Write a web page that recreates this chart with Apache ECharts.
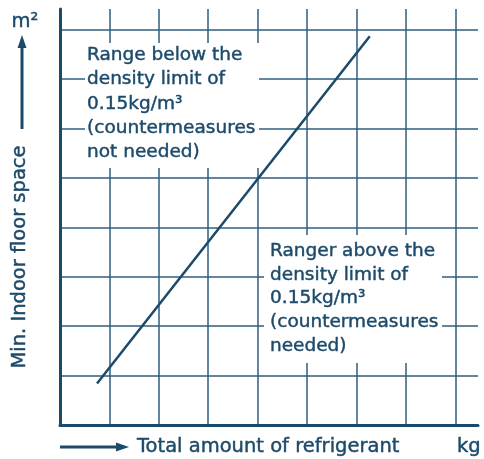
<!DOCTYPE html>
<html>
<head>
<meta charset="utf-8">
<script src="https://cdn.jsdelivr.net/npm/echarts@6/dist/echarts.min.js"></script>
<style>
html,body{margin:0;padding:0;background:#fff;}
#chart{width:484px;height:459px;}
</style>
</head>
<body>
<div id="chart"></div>
<script>
// refrigerant amount (kg) vs min. floor space (m2), grid units
const amount = [0.75, 6.27];
const floorSpace = [0.84, 7.87];
const xMax = 8.46;
const yMax = 8.42;
const belowText = ['Range below the', 'density limit of', '0.15kg/m³', '(countermeasures', 'not needed)'];
const aboveText = ['Ranger above the', 'density limit of', '0.15kg/m³', '(countermeasures', 'needed)'];

const ink = '#1c4a6a';
const font = '18.5px "DejaVu Sans", sans-serif';
const titleFont = '19.5px "DejaVu Sans", sans-serif';
// slight stroke so the regular face looks like a medium weight
const txt = (extra) => Object.assign({ font: font, fill: ink, stroke: ink, lineWidth: 0.45 }, extra);

let myChart = echarts.init(document.getElementById('chart'));
let option = {
    animation: false,
    grid: {
        left: 60,
        right: 6,
        top: 9,
        bottom: 34
    },
    xAxis: {
        type: 'value',
        min: 0,
        max: xMax,
        interval: 1,
        axisLine: { show: true, lineStyle: { color: ink, width: 3 } },
        axisTick: { show: false },
        axisLabel: { show: false },
        splitLine: {
            show: true,
            showMinLine: false,
            showMaxLine: false,
            lineStyle: { color: '#2f5c7c', width: 1.5 }
        }
    },
    yAxis: {
        type: 'value',
        min: 0,
        max: yMax,
        interval: 1,
        axisLine: { show: true, lineStyle: { color: ink, width: 3 } },
        axisTick: { show: false },
        axisLabel: { show: false },
        splitLine: {
            show: true,
            showMinLine: false,
            showMaxLine: false,
            lineStyle: { color: '#2f5c7c', width: 1.5 }
        }
    },
    series: [
        {
            type: 'line',
            data: amount.map((v, i) => [v, floorSpace[i]]),
            symbol: 'none',
            lineStyle: { color: ink, width: 2.5 },
            z: 5
        }
    ],
    graphic: [
        // white boxes behind the region labels
        { type: 'rect', shape: { x: 85, y: 43, width: 174, height: 125 }, style: { fill: '#fff' }, z: 10 },
        { type: 'rect', shape: { x: 264, y: 235, width: 178, height: 128 }, style: { fill: '#fff' }, z: 10 },
        {
            type: 'text', x: 87, y: 43, z: 11,
            style: txt({ text: belowText.join('\n'), lineHeight: 24.3, verticalAlign: 'top' })
        },
        {
            type: 'text', x: 270, y: 239, z: 11,
            style: txt({ text: aboveText.join('\n'), lineHeight: 23.8, verticalAlign: 'top' })
        },
        // y axis title + arrow
        {
            type: 'text', x: 20, y: 257, rotation: Math.PI / 2, z: 11,
            style: txt({ text: 'Min. Indoor floor space', font: titleFont, align: 'center', verticalAlign: 'middle' })
        },
        { type: 'line', shape: { x1: 22, y1: 129, x2: 22, y2: 46 }, style: { stroke: ink, lineWidth: 3 }, z: 11 },
        { type: 'polygon', shape: { points: [[22, 35], [17.5, 48], [26.5, 48]] }, style: { fill: ink }, z: 11 },
        {
            type: 'text', x: 25, y: 22, z: 11,
            style: txt({ text: 'm²', font: titleFont, align: 'center', verticalAlign: 'middle' })
        },
        // x axis title + arrow
        { type: 'line', shape: { x1: 60, y1: 447, x2: 118, y2: 447 }, style: { stroke: ink, lineWidth: 3 }, z: 11 },
        { type: 'polygon', shape: { points: [[129, 447], [116, 442.5], [116, 451.5]] }, style: { fill: ink }, z: 11 },
        {
            type: 'text', x: 137, y: 447, z: 11,
            style: txt({ text: 'Total amount of refrigerant', font: titleFont, verticalAlign: 'middle' })
        },
        {
            type: 'text', x: 457, y: 447, z: 11,
            style: txt({ text: 'kg', font: titleFont, verticalAlign: 'middle' })
        }
    ]
};
myChart.setOption(option);
window.onresize = function () {
    myChart.resize();
};
</script>
</body>
</html>
